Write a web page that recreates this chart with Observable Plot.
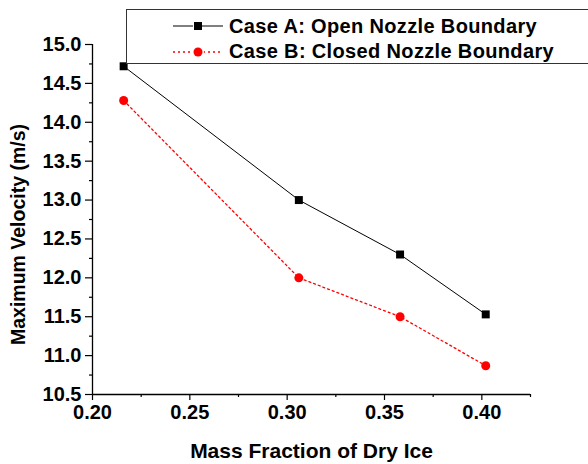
<!DOCTYPE html>
<html>
<head>
<meta charset="utf-8">
<script src="https://cdn.jsdelivr.net/npm/d3@7"></script>
<script src="https://cdn.jsdelivr.net/npm/@observablehq/plot@0.6"></script>
<style>
  html, body { margin: 0; padding: 0; background: white; }
  #wrap { position: relative; width: 588px; height: 464px; overflow: hidden; font-family: Arial, "Liberation Sans", sans-serif; }
  #legend { position: absolute; left: 126px; top: 9px; width: 620px; height: 55px; border: 1.6px solid #333; border-right: none; background: white; box-sizing: border-box; }
  .row { position: absolute; left: 46px; height: 24px; display: flex; align-items: center; font-weight: bold; font-size: 20px; letter-spacing: 0.35px; color: #000; white-space: nowrap; }
  .row svg { margin-right: 6px; }
</style>
</head>
<body>
<div id="wrap"></div>
<script>
// ---- data ----
const massFraction = [0.216, 0.306, 0.358, 0.402];
const caseA = [14.72, 13.0, 12.3, 11.53];
const caseB = [14.28, 12.0, 11.5, 10.87];
const seriesNames = ["Case A: Open Nozzle Boundary", "Case B: Closed Nozzle Boundary"];
const xTicks = [0.20, 0.25, 0.30, 0.35, 0.40];
const xMinorTicks = [0.225, 0.275, 0.325, 0.375, 0.425];
const yTicks = [10.5, 11.0, 11.5, 12.0, 12.5, 13.0, 13.5, 14.0, 14.5, 15.0];
const yMinorTicks = [10.75, 11.25, 11.75, 12.25, 12.75, 13.25, 13.75, 14.25, 14.75];
const xLabel = "Mass Fraction of Dry Ice";
const yLabel = "Maximum Velocity (m/s)";

const dataA = massFraction.map((x, i) => ({x, y: caseA[i]}));
const dataB = massFraction.map((x, i) => ({x, y: caseB[i]}));

const font = 'Arial, "Liberation Sans", sans-serif';

const chart = Plot.plot({
  width: 588,
  height: 464,
  marginLeft: 92,
  marginRight: 58,
  marginTop: 44,
  marginBottom: 70,
  style: {fontFamily: font, fontWeight: "bold", fontSize: "20px", color: "#000", background: "white", overflow: "visible"},
  x: {domain: [0.2, 0.425]},
  y: {domain: [10.5, 15.0]},
  marks: [
    Plot.axisX(xTicks, {tickSize: 6, tickPadding: 4, tickFormat: ".2f", label: null, strokeWidth: 1.2}),
    Plot.axisX(xMinorTicks, {tickSize: 3, tickFormat: () => "", label: null, strokeWidth: 1.2}),
    Plot.axisY(yTicks, {tickSize: 7, tickPadding: 4, tickFormat: ".1f", label: null, strokeWidth: 1.2}),
    Plot.axisY(yMinorTicks, {tickSize: 3, tickFormat: () => "", label: null, strokeWidth: 1.2}),
    Plot.text([xLabel], {frameAnchor: "bottom", textAnchor: "middle", lineAnchor: "middle", dy: 56.5, fontSize: 21, fontWeight: "bold", fill: "#000"}),
    Plot.text([yLabel], {frameAnchor: "left", textAnchor: "middle", lineAnchor: "middle", rotate: -90, dx: -73.5, dy: 15, fontSize: 19.5, fontWeight: "bold", fill: "#000"}),
    Plot.ruleX([0.2], {stroke: "#000", strokeWidth: 1.3}),
    Plot.ruleY([10.5], {stroke: "#000", strokeWidth: 1.3}),
    Plot.line(dataA, {x: "x", y: "y", stroke: "#000", strokeWidth: 1}),
    Plot.line(dataB, {x: "x", y: "y", stroke: "#ff0000", strokeWidth: 1.3, strokeDasharray: "2,3"}),
    Plot.dot(dataA, {x: "x", y: "y", symbol: "square", r: 4.5, fill: "#000", stroke: "none"}),
    Plot.dot(dataB, {x: "x", y: "y", symbol: "circle", r: 4.5, fill: "#ff0000", stroke: "none"})
  ]
});

const wrap = document.getElementById("wrap");
wrap.appendChild(chart);

// ---- legend ----
const legend = document.createElement("div");
legend.id = "legend";
const styles = [
  {stroke: "#000", dash: null, marker: "square", fill: "#000"},
  {stroke: "#ff0000", dash: "2,3", marker: "circle", fill: "#ff0000"}
];
seriesNames.forEach((name, i) => {
  const row = document.createElement("div");
  row.className = "row";
  row.style.top = (4 + i * 25.5) + "px";
  const s = styles[i];
  const svg = d3.create("svg").attr("width", 50).attr("height", 12);
  svg.append("line").attr("x1", 0).attr("x2", 50).attr("y1", 6).attr("y2", 6)
    .attr("stroke", s.stroke).attr("stroke-width", s.dash ? 1.3 : 1)
    .attr("stroke-dasharray", s.dash);
  if (s.marker === "square") {
    svg.append("rect").attr("x", 20).attr("y", 1.5).attr("width", 9).attr("height", 9).attr("fill", "white");
    svg.append("rect").attr("x", 21).attr("y", 2).attr("width", 8).attr("height", 8).attr("fill", s.fill);
  } else {
    svg.append("circle").attr("cx", 25).attr("cy", 6).attr("r", 6).attr("fill", "white");
    svg.append("circle").attr("cx", 25).attr("cy", 6).attr("r", 4.5).attr("fill", s.fill);
  }
  row.appendChild(svg.node());
  const t = document.createElement("span");
  t.textContent = name;
  row.appendChild(t);
  legend.appendChild(row);
});
wrap.appendChild(legend);
</script>
</body>
</html>
